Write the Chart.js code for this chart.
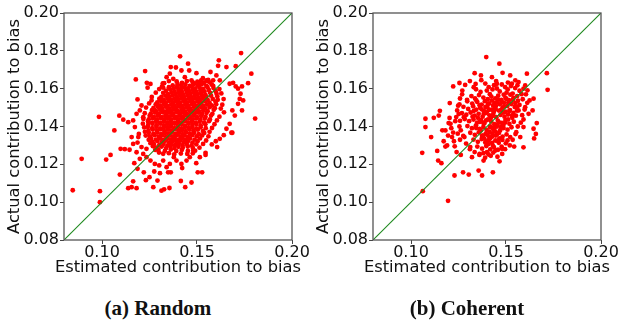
<!DOCTYPE html>
<html>
<head>
<meta charset="utf-8">
<script src="https://cdn.jsdelivr.net/npm/chart.js@4/dist/chart.umd.min.js"></script>
<style>
  html, body { margin:0; padding:0; background:#fff; }
  body { width:622px; height:320px; position:relative; overflow:hidden; }
  .pane { position:absolute; top:0; width:311px; height:285px; }
  .cap { position:absolute; top:296px; width:200px; text-align:center;
         font-family:"Liberation Serif", serif; font-weight:bold; font-size:21px; color:#111; }
</style>
</head>
<body>
<div class="pane" style="left:0px"><canvas id="c1" width="311" height="285"></canvas></div>
<div class="pane" style="left:309px"><canvas id="c2" width="311" height="285"></canvas></div>
<div class="cap" style="left:58px" id="cap1"></div>
<div class="cap" style="left:367px" id="cap2"></div>
<script>
// ---- data ----
const xTicks = [0.10, 0.15, 0.20];
const yTicks = [0.08, 0.10, 0.12, 0.14, 0.16, 0.18, 0.20];
const axisRange = [0.08, 0.20];
const diagonal = [0.08, 0.20];
const xTitle = 'Estimated contribution to bias';
const yTitle = 'Actual contribution to bias';
const captions = ['(a) Random', '(b) Coherent'];

// Random: [estimated, actual] - scattered points
const randomSparse = [
[0.0846,0.1063],[0.0893,0.1229],[0.0984,0.1451],[0.0989,0.1058],[0.0989,0.1000],[0.1022,0.1225],[0.1045,0.1250],
[0.1065,0.1379],[0.1091,0.1457],[0.1094,0.1146],[0.1098,0.1282],[0.1112,0.1436],[0.1120,0.1280],[0.1138,0.1074],
[0.1145,0.1277],[0.1156,0.1079],[0.1164,0.1110],[0.1170,0.1206],[0.1178,0.1649],[0.1182,0.1074],[0.1187,0.1176],
[0.1187,0.1315],[0.1194,0.1361],[0.1187,0.1543],[0.1220,0.1158],[0.1227,0.1693],[0.1231,0.1116],[0.1236,0.1631],
[0.1250,0.1132],[0.1240,0.1605],[0.1275,0.1162],[0.1270,0.1079],[0.1292,0.1114],[0.1305,0.1153],[0.1313,0.1061],
[0.1327,0.1068],[0.1348,0.1158],[0.1355,0.1075],[0.1357,0.1679],[0.1362,0.1158],[0.1389,0.1712],[0.1411,0.1771],
[0.1415,0.1112],[0.1422,0.1180],[0.1438,0.1079],[0.1453,0.1732],[0.1471,0.1104],[0.1496,0.1206],[0.1504,0.1158],
[0.1527,0.1158],[0.1571,0.1688],[0.1615,0.1750],[0.1611,0.1721],[0.1655,0.1714],[0.1690,0.1631],[0.1704,0.1719],
[0.1732,0.1788],[0.1769,0.1629],[0.1786,0.1679],[0.1806,0.1442],[0.1737,0.1485],[0.1716,0.1520],[0.1737,0.1612],
[0.1704,0.1612],[0.1686,0.1367],[0.1641,0.1354],[0.1545,0.1261],[0.1545,0.1250],[0.1599,0.1322],[0.1578,0.1305],
[0.1725,0.1546],
[0.1261,0.1538],[0.1275,0.1488],[0.1305,0.1538],[0.1322,0.1605],[0.1327,0.1629],[0.1340,0.1661],[0.1362,0.1714],
[0.1418,0.1696],[0.1436,0.1661],[0.1459,0.1696],[0.1471,0.1644],[0.1485,0.1626],[0.1497,0.1682],[0.1511,0.1629],
[0.1522,0.1644],[0.1550,0.1644],[0.1559,0.1647],[0.1585,0.1644],[0.1602,0.1670],[0.1620,0.1644],[0.1672,0.1626],
[0.1716,0.1600],[0.1729,0.1573],[0.1743,0.1538],[0.1686,0.1485],[0.1699,0.1458],[0.1672,0.1414],[0.1655,0.1388],
[0.1681,0.1367],[0.1620,0.1335],[0.1606,0.1291],[0.1515,0.1238],[0.1480,0.1273],[0.1462,0.1238],[0.1445,0.1220],
[0.1418,0.1202],[0.1392,0.1220],[0.1378,0.1238],[0.1357,0.1202],[0.1340,0.1185],[0.1322,0.1220],[0.1301,0.1194],
[0.1278,0.1202],[0.1255,0.1220],[0.1234,0.1238],[0.1217,0.1255],[0.1199,0.1229],[0.1182,0.1264],[0.1164,0.1308],
[0.1156,0.1344],[0.1173,0.1397],[0.1164,0.1432],[0.1182,0.1467],[0.1199,0.1485],[0.1208,0.1511],[0.1217,0.1449],
[0.1191,0.1344],[0.1208,0.1291],[0.1234,0.1282],[0.1138,0.1423],
[0.1320,0.1628],[0.1352,0.1640],[0.1375,0.1652],[0.1531,0.1655],[0.1569,0.1632],
[0.1585,0.1615],[0.1618,0.1598],[0.1628,0.1575],[0.1640,0.1545],[0.1633,0.1515],[0.1625,0.1495],[0.1642,0.1475],
[0.1618,0.1452],[0.1605,0.1432],[0.1592,0.1412],[0.1579,0.1392],[0.1566,0.1372],[0.1560,0.1348],[0.1548,0.1326],
[0.1532,0.1308],[0.1513,0.1288],[0.1490,0.1272],[0.1478,0.1258],[0.1449,0.1255],[0.1415,0.1257],[0.1380,0.1252],
[0.1352,0.1259],[0.1322,0.1256],[0.1300,0.1262],[0.1280,0.1276],[0.1268,0.1296],[0.1255,0.1312],[0.1246,0.1330],
[0.1230,0.1352],[0.1226,0.1372],[0.1222,0.1395],[0.1215,0.1415],[0.1218,0.1440],[0.1225,0.1470],[0.1232,0.1500],
[0.1248,0.1522],[0.1262,0.1556],[0.1283,0.1579],[0.1301,0.1598],[0.1316,0.1612],[0.1255,0.1625]
];

// Random: [estimated, actual] - dense centre
const randomDense = [
[0.1393,0.1638],[0.1421,0.1631],[0.1447,0.1640],[0.1478,0.1633],[0.1502,0.1637],[0.1536,0.1630],[0.1558,0.1639],
[0.1372,0.1617],[0.1398,0.1624],[0.1417,0.1615],[0.1439,0.1622],[0.1462,0.1614],[0.1481,0.1625],[0.1505,0.1618],[0.1524,0.1623],[0.1549,0.1615],[0.1578,0.1621],
[0.1352,0.1608],[0.1377,0.1601],[0.1395,0.1609],[0.1416,0.1600],[0.1434,0.1607],[0.1452,0.1602],[0.1473,0.1610],[0.1491,0.1601],[0.1513,0.1606],[0.1532,0.1599],[0.1555,0.1608],[0.1587,0.1603],
[0.1337,0.1589],[0.1359,0.1595],[0.1381,0.1586],[0.1402,0.1593],[0.1420,0.1585],[0.1441,0.1594],[0.1458,0.1588],[0.1479,0.1592],[0.1497,0.1584],[0.1518,0.1591],[0.1539,0.1586],[0.1562,0.1593],[0.1598,0.1587],
[0.1322,0.1578],[0.1347,0.1571],[0.1366,0.1579],[0.1388,0.1572],[0.1406,0.1577],[0.1427,0.1570],[0.1446,0.1579],[0.1465,0.1573],[0.1484,0.1578],[0.1503,0.1571],[0.1522,0.1576],[0.1544,0.1569],[0.1569,0.1578],[0.1603,0.1573],
[0.1313,0.1557],[0.1334,0.1563],[0.1355,0.1556],[0.1373,0.1564],[0.1394,0.1555],[0.1412,0.1562],[0.1431,0.1557],[0.1450,0.1563],[0.1469,0.1555],[0.1487,0.1561],[0.1508,0.1554],[0.1527,0.1562],[0.1548,0.1556],[0.1574,0.1563],[0.1607,0.1558],
[0.1302,0.1547],[0.1325,0.1541],[0.1345,0.1548],[0.1364,0.1540],[0.1383,0.1546],[0.1401,0.1542],[0.1420,0.1549],[0.1438,0.1541],[0.1457,0.1547],[0.1476,0.1540],[0.1494,0.1548],[0.1514,0.1542],[0.1533,0.1547],[0.1556,0.1540],[0.1583,0.1546],[0.1609,0.1541],
[0.1291,0.1528],[0.1314,0.1534],[0.1336,0.1527],[0.1354,0.1535],[0.1374,0.1526],[0.1392,0.1533],[0.1410,0.1528],[0.1429,0.1535],[0.1447,0.1527],[0.1466,0.1532],[0.1484,0.1525],[0.1503,0.1534],[0.1523,0.1528],[0.1543,0.1533],[0.1566,0.1526],[0.1597,0.1532],
[0.1283,0.1517],[0.1305,0.1511],[0.1326,0.1518],[0.1345,0.1510],[0.1364,0.1516],[0.1382,0.1512],[0.1401,0.1519],[0.1419,0.1511],[0.1438,0.1517],[0.1456,0.1510],[0.1475,0.1518],[0.1493,0.1512],[0.1512,0.1517],[0.1532,0.1510],[0.1553,0.1516],[0.1578,0.1511],[0.1601,0.1518],
[0.1271,0.1498],[0.1294,0.1504],[0.1316,0.1497],[0.1335,0.1505],[0.1354,0.1496],[0.1373,0.1503],[0.1391,0.1498],[0.1410,0.1505],[0.1428,0.1497],[0.1447,0.1502],[0.1465,0.1495],[0.1484,0.1504],[0.1503,0.1498],[0.1522,0.1503],[0.1543,0.1496],[0.1567,0.1502],[0.1594,0.1497],
[0.1263,0.1487],[0.1285,0.1481],[0.1306,0.1488],[0.1326,0.1480],[0.1345,0.1486],[0.1364,0.1482],[0.1382,0.1489],[0.1400,0.1481],[0.1419,0.1487],[0.1437,0.1480],[0.1456,0.1488],[0.1474,0.1482],[0.1493,0.1487],[0.1512,0.1480],[0.1533,0.1486],[0.1556,0.1481],[0.1588,0.1488],
[0.1257,0.1468],[0.1279,0.1474],[0.1300,0.1467],[0.1320,0.1475],[0.1339,0.1466],[0.1358,0.1473],[0.1376,0.1468],[0.1395,0.1475],[0.1413,0.1467],[0.1432,0.1472],[0.1450,0.1465],[0.1469,0.1474],[0.1488,0.1468],[0.1507,0.1473],[0.1527,0.1466],[0.1550,0.1472],[0.1581,0.1467],
[0.1251,0.1457],[0.1273,0.1451],[0.1294,0.1458],[0.1314,0.1450],[0.1333,0.1456],[0.1352,0.1452],[0.1370,0.1459],[0.1389,0.1451],[0.1407,0.1457],[0.1426,0.1450],[0.1444,0.1458],[0.1463,0.1452],[0.1482,0.1457],[0.1501,0.1450],[0.1522,0.1456],[0.1545,0.1451],[0.1574,0.1458],
[0.1246,0.1438],[0.1268,0.1444],[0.1289,0.1437],[0.1309,0.1445],[0.1328,0.1436],[0.1347,0.1443],[0.1365,0.1438],[0.1384,0.1445],[0.1402,0.1437],[0.1421,0.1442],[0.1439,0.1435],[0.1458,0.1444],[0.1477,0.1438],[0.1497,0.1443],[0.1518,0.1436],[0.1541,0.1442],[0.1568,0.1437],
[0.1242,0.1427],[0.1264,0.1421],[0.1285,0.1428],[0.1305,0.1420],[0.1324,0.1426],[0.1343,0.1422],[0.1361,0.1429],[0.1380,0.1421],[0.1398,0.1427],[0.1417,0.1420],[0.1435,0.1428],[0.1454,0.1422],[0.1473,0.1427],[0.1493,0.1420],[0.1514,0.1426],[0.1537,0.1421],[0.1563,0.1428],
[0.1243,0.1408],[0.1266,0.1414],[0.1287,0.1407],[0.1307,0.1415],[0.1326,0.1406],[0.1345,0.1413],[0.1363,0.1408],[0.1382,0.1415],[0.1400,0.1407],[0.1419,0.1412],[0.1437,0.1405],[0.1456,0.1414],[0.1476,0.1408],[0.1497,0.1413],[0.1519,0.1406],[0.1544,0.1412],
[0.1241,0.1397],[0.1264,0.1391],[0.1286,0.1398],[0.1306,0.1390],[0.1325,0.1396],[0.1344,0.1392],[0.1362,0.1399],[0.1381,0.1391],[0.1399,0.1397],[0.1418,0.1390],[0.1436,0.1398],[0.1455,0.1392],[0.1475,0.1397],[0.1496,0.1390],[0.1519,0.1396],[0.1546,0.1391],
[0.1244,0.1378],[0.1267,0.1384],[0.1289,0.1377],[0.1309,0.1385],[0.1328,0.1376],[0.1347,0.1383],[0.1365,0.1378],[0.1384,0.1385],[0.1402,0.1377],[0.1421,0.1382],[0.1440,0.1375],[0.1460,0.1384],[0.1481,0.1378],[0.1504,0.1383],[0.1531,0.1376],
[0.1246,0.1367],[0.1270,0.1361],[0.1292,0.1368],[0.1312,0.1360],[0.1331,0.1366],[0.1350,0.1362],[0.1368,0.1369],[0.1387,0.1361],[0.1405,0.1367],[0.1424,0.1360],[0.1443,0.1368],[0.1463,0.1362],[0.1485,0.1367],[0.1509,0.1360],[0.1538,0.1366],
[0.1252,0.1348],[0.1277,0.1354],[0.1299,0.1347],[0.1319,0.1355],[0.1338,0.1346],[0.1357,0.1353],[0.1375,0.1348],[0.1394,0.1355],[0.1413,0.1347],[0.1432,0.1352],[0.1452,0.1345],[0.1474,0.1354],[0.1498,0.1348],[0.1527,0.1353],
[0.1259,0.1337],[0.1284,0.1331],[0.1306,0.1338],[0.1326,0.1330],[0.1345,0.1336],[0.1364,0.1332],[0.1383,0.1339],[0.1402,0.1331],[0.1421,0.1337],[0.1441,0.1330],[0.1463,0.1336],[0.1487,0.1331],[0.1516,0.1337],
[0.1266,0.1318],[0.1292,0.1324],[0.1315,0.1317],[0.1335,0.1325],[0.1354,0.1316],[0.1373,0.1323],[0.1392,0.1318],[0.1411,0.1325],[0.1431,0.1317],[0.1452,0.1322],[0.1476,0.1315],[0.1503,0.1322],
[0.1274,0.1307],[0.1301,0.1301],[0.1324,0.1308],[0.1345,0.1300],[0.1365,0.1306],[0.1384,0.1302],[0.1404,0.1309],[0.1424,0.1301],[0.1446,0.1307],[0.1471,0.1300],[0.1496,0.1306],
[0.1286,0.1288],[0.1314,0.1294],[0.1338,0.1287],[0.1360,0.1295],[0.1381,0.1286],[0.1402,0.1293],[0.1425,0.1288],[0.1451,0.1294],[0.1478,0.1287],
[0.1297,0.1277],[0.1331,0.1271],[0.1362,0.1278],[0.1391,0.1270],[0.1420,0.1276],[0.1452,0.1271]
];

// Coherent: [estimated, actual] - scattered points
const coherentSparse = [
[0.1059,0.1261],[0.1062,0.1058],[0.1076,0.1441],[0.1076,0.1397],[0.1106,0.1344],[0.1120,0.1446],[0.1138,0.1271],
[0.1143,0.1220],[0.1160,0.1206],[0.1146,0.1458],[0.1152,0.1483],[0.1195,0.1007],[0.1181,0.1294],[0.1204,0.1524],
[0.1222,0.1612],[0.1229,0.1141],[0.1255,0.1630],[0.1255,0.1517],[0.1274,0.1158],[0.1304,0.1146],[0.1335,0.1682],
[0.1356,0.1167],[0.1368,0.1670],[0.1374,0.1141],[0.1396,0.1767],[0.1426,0.1661],[0.1431,0.1158],[0.1465,0.1732],
[0.1466,0.1216],[0.1482,0.1684],[0.1522,0.1670],[0.1543,0.1294],[0.1592,0.1290],[0.1610,0.1679],[0.1640,0.1485],
[0.1645,0.1547],[0.1645,0.1388],[0.1648,0.1337],[0.1657,0.1361],[0.1662,0.1418],[0.1715,0.1682],[0.1719,0.1594],
[0.1592,0.1437],[0.1592,0.1397],
[0.1181,0.1379],[0.1208,0.1414],[0.1216,0.1344],[0.1243,0.1485],[0.1269,0.1570],[0.1278,0.1449],[0.1281,0.1344],
[0.1295,0.1541],[0.1312,0.1291],[0.1321,0.1238],[0.1330,0.1608],[0.1344,0.1538],[0.1361,0.1255],[0.1382,0.1220],
[0.1400,0.1264],[0.1409,0.1608],[0.1444,0.1273],[0.1452,0.1626],[0.1479,0.1282],[0.1496,0.1608],[0.1508,0.1326],
[0.1531,0.1626],[0.1549,0.1644],[0.1566,0.1635],[0.1601,0.1617],[0.1613,0.1591],[0.1624,0.1538],[0.1619,0.1467],
[0.1601,0.1502],[0.1566,0.1485],[0.1575,0.1344],[0.1554,0.1370],
[0.1165,0.1380],[0.1172,0.1322],[0.1190,0.1300],[0.1198,0.1418],[0.1222,0.1368],[0.1230,0.1295],[0.1238,0.1450],
[0.1240,0.1265],[0.1255,0.1400],[0.1258,0.1330],[0.1262,0.1250],[0.1248,0.1510],[0.1258,0.1548],[0.1270,0.1590],
[0.1285,0.1620],[0.1310,0.1640],[0.1340,0.1625],[0.1370,0.1645],[0.1448,0.1640],[0.1510,0.1632],[0.1560,0.1618],
[0.1592,0.1600],[0.1605,0.1570],[0.1612,0.1525],[0.1598,0.1490],[0.1585,0.1460],[0.1578,0.1420],[0.1562,0.1400],
[0.1550,0.1360],[0.1535,0.1330],[0.1520,0.1300],[0.1495,0.1280],[0.1480,0.1255],[0.1455,0.1240],[0.1420,0.1245],
[0.1390,0.1235],[0.1360,0.1250],[0.1335,0.1265],[0.1310,0.1280],[0.1290,0.1310],[0.1275,0.1350],[0.1262,0.1380],
[0.1258,0.1430],
[0.1195,0.1352],[0.1212,0.1391],[0.1226,0.1322],[0.1233,0.1428],[0.1246,0.1362],[0.1251,0.1466],[0.1203,0.1445]
];

// Coherent: [estimated, actual] - dense centre
const coherentDense = [
[0.1391,0.1627],[0.1437,0.1618],[0.1452,0.1601],[0.1478,0.1622],[0.1509,0.1596],[0.1526,0.1614],[0.1548,0.1603],[0.1571,0.1589],
[0.1342,0.1597],[0.1366,0.1583],[0.1399,0.1590],[0.1415,0.1571],[0.1429,0.1596],[0.1467,0.1585],[0.1488,0.1568],[0.1503,0.1579],[0.1535,0.1574],[0.1559,0.1561],[0.1582,0.1571],
[0.1318,0.1561],[0.1337,0.1548],[0.1358,0.1566],[0.1381,0.1553],[0.1404,0.1544],[0.1423,0.1558],[0.1444,0.1549],[0.1459,0.1563],[0.1476,0.1541],[0.1497,0.1552],[0.1516,0.1539],[0.1539,0.1551],[0.1563,0.1536],[0.1588,0.1544],
[0.1296,0.1533],[0.1322,0.1521],[0.1349,0.1529],[0.1372,0.1516],[0.1389,0.1534],[0.1411,0.1522],[0.1432,0.1511],[0.1451,0.1528],[0.1468,0.1517],[0.1489,0.1526],[0.1507,0.1508],[0.1528,0.1519],[0.1546,0.1503],[0.1571,0.1514],
[0.1276,0.1504],[0.1301,0.1493],[0.1327,0.1507],[0.1343,0.1489],[0.1364,0.1498],[0.1385,0.1481],[0.1402,0.1502],[0.1424,0.1489],[0.1441,0.1497],[0.1463,0.1484],[0.1482,0.1499],[0.1498,0.1478],[0.1521,0.1487],[0.1539,0.1472],[0.1558,0.1484],
[0.1268,0.1471],[0.1291,0.1462],[0.1314,0.1474],[0.1335,0.1458],[0.1356,0.1467],[0.1377,0.1452],[0.1394,0.1471],[0.1413,0.1459],[0.1433,0.1466],[0.1449,0.1449],[0.1471,0.1461],[0.1492,0.1452],[0.1511,0.1463],[0.1533,0.1446],[0.1552,0.1457],
[0.1283,0.1439],[0.1306,0.1428],[0.1329,0.1437],[0.1348,0.1421],[0.1369,0.1433],[0.1387,0.1418],[0.1405,0.1437],[0.1422,0.1426],[0.1439,0.1412],[0.1457,0.1431],[0.1478,0.1419],[0.1497,0.1434],[0.1518,0.1414],[0.1541,0.1425],
[0.1297,0.1402],[0.1321,0.1391],[0.1342,0.1406],[0.1361,0.1387],[0.1381,0.1398],[0.1398,0.1381],[0.1416,0.1396],[0.1433,0.1384],[0.1451,0.1399],[0.1469,0.1379],[0.1487,0.1392],[0.1508,0.1383],[0.1529,0.1396],
[0.1312,0.1367],[0.1336,0.1356],[0.1357,0.1369],[0.1374,0.1351],[0.1393,0.1362],[0.1411,0.1347],[0.1428,0.1363],[0.1446,0.1352],[0.1463,0.1366],[0.1482,0.1347],[0.1503,0.1358],[0.1522,0.1344],
[0.1329,0.1331],[0.1352,0.1319],[0.1372,0.1334],[0.1391,0.1316],[0.1409,0.1328],[0.1427,0.1313],[0.1444,0.1326],[0.1462,0.1314],[0.1481,0.1329],[0.1499,0.1311],
[0.1349,0.1294],[0.1374,0.1283],[0.1396,0.1297],[0.1417,0.1279],[0.1436,0.1291],[0.1458,0.1277],[0.1477,0.1293],
[0.1381,0.1259],[0.1408,0.1252],[0.1433,0.1262],
[0.1361,0.1512],[0.1398,0.1474],[0.1419,0.1442],[0.1436,0.1478],[0.1455,0.1409],[0.1474,0.1488],[0.1381,0.1419],
[0.1402,0.1356],[0.1426,0.1537],[0.1458,0.1542],[0.1491,0.1506],[0.1511,0.1437],[0.1367,0.1379],[0.1418,0.1401],
[0.1444,0.1374],[0.1386,0.1336],[0.1352,0.1446],[0.1331,0.1483],[0.1465,0.1337],[0.1417,0.1338],[0.1392,0.1503],
[0.1439,0.1524],[0.1485,0.1406],[0.1502,0.1546],[0.1523,0.1568],[0.1549,0.1524],[0.1408,0.1307],[0.1431,0.1298],
[0.1372,0.1491],[0.1409,0.1487],[0.1428,0.1455],[0.1446,0.1491],[0.1463,0.1422],[0.1484,0.1473],[0.1395,0.1432],
[0.1413,0.1371],[0.1437,0.1395],[0.1452,0.1358],[0.1472,0.1397],[0.1496,0.1421],[0.1518,0.1482],[0.1532,0.1459],
[0.1379,0.1351],[0.1398,0.1321],[0.1427,0.1347],[0.1457,0.1324],[0.1362,0.1424],[0.1343,0.1392],[0.1324,0.1452],
[0.1383,0.1468],[0.1405,0.1519],[0.1447,0.1509],[0.1476,0.1531],[0.1512,0.1526],[0.1537,0.1541],[0.1559,0.1503]
];

// ---- drawing ----
document.getElementById('cap1').textContent = captions[0];
document.getElementById('cap2').textContent = captions[1];

const FONT = '"DejaVu Sans", sans-serif';
Chart.defaults.font.family = FONT;
Chart.defaults.color = '#111';

const TICK_FS = 16;
const TITLE_FS = 16.3;

const framePlugin = {
  id: 'frame',
  afterDatasetsDraw(chart) {
    const { ctx, chartArea: a } = chart;
    ctx.save();
    ctx.strokeStyle = '#555';
    ctx.lineWidth = 1.3;
    ctx.strokeRect(a.left, a.top, a.right - a.left, a.bottom - a.top);
    ctx.restore();
  }
};

// x-axis title (drawn without Chart.js' width clamp so it can overhang the plot)
const xTitlePlugin = {
  id: 'xTitle',
  afterDraw(chart) {
    const { ctx, chartArea: a } = chart;
    ctx.save();
    ctx.font = TITLE_FS + 'px ' + FONT;
    ctx.fillStyle = '#111';
    ctx.textAlign = 'center';
    ctx.textBaseline = 'middle';
    ctx.fillText(xTitle, (a.left + a.right) / 2, 268);
    ctx.restore();
  }
};

function makeChart(id, sparse, dense) {
  const scatterData = sparse.concat(dense).map(p => ({ x: p[0], y: p[1] }));
  const lineData = diagonal.map(v => ({ x: v, y: v }));
  return new Chart(document.getElementById(id), {
    data: {
      datasets: [
        { type: 'line', data: lineData, borderColor: '#1f8a1f', borderWidth: 1.1,
          pointRadius: 0, fill: false, order: 0 },
        { type: 'scatter', data: scatterData, backgroundColor: '#ff0000', borderWidth: 0,
          pointRadius: 2.4, pointHoverRadius: 2.4, order: 1 }
      ]
    },
    options: {
      responsive: false,
      animation: false,
      devicePixelRatio: 1,
      layout: { padding: { left: 0, right: 19, top: 13, bottom: 0 } },
      plugins: { legend: { display: false }, tooltip: { enabled: false } },
      scales: {
        x: {
          type: 'linear', min: axisRange[0], max: axisRange[1],
          afterBuildTicks: s => { s.ticks = xTicks.map(v => ({ value: v })); },
          afterFit: s => { s.height = 45; },
          ticks: { font: { size: TICK_FS }, color: '#111', padding: -1,
                   callback: v => Number(v).toFixed(2), maxRotation: 0, autoSkip: false },
          grid: { drawOnChartArea: false, drawTicks: true, tickLength: 4, color: '#444', tickWidth: 1 },
          border: { display: false },
          title: { display: false }
        },
        y: {
          type: 'linear', min: axisRange[0], max: axisRange[1],
          afterBuildTicks: s => { s.ticks = yTicks.map(v => ({ value: v })); },
          afterFit: s => { s.width = 64; },
          ticks: { font: { size: TICK_FS }, color: '#111', padding: 1,
                   callback: v => Number(v).toFixed(2), autoSkip: false },
          grid: { drawOnChartArea: false, drawTicks: true, tickLength: 4, color: '#444', tickWidth: 1 },
          border: { display: false },
          title: { display: true, text: yTitle, font: { size: TITLE_FS }, color: '#111',
                   padding: { top: 5, bottom: 0 } }
        }
      }
    },
    plugins: [framePlugin, xTitlePlugin]
  });
}

makeChart('c1', randomSparse, randomDense);
makeChart('c2', coherentSparse, coherentDense);
</script>
</body>
</html>
